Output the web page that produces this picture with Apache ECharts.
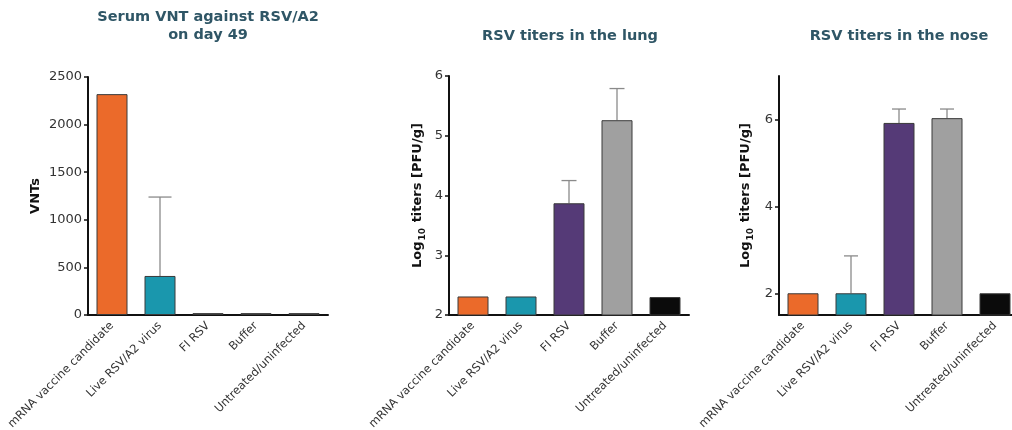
<!DOCTYPE html>
<html>
<head>
<meta charset="utf-8">
<script src="https://cdn.jsdelivr.net/npm/echarts@6/dist/echarts.min.js"></script>
<style>
html,body{margin:0;padding:0;background:#fff;}
#c{width:1012px;height:430px;}
</style>
</head>
<body>
<div id="c"></div>
<script>
// ---- data ----
const categories = ['mRNA vaccine candidate', 'Live RSV/A2 virus', 'FI RSV', 'Buffer', 'Untreated/uninfected'];
const vntValues = [2320, 410, 20, 20, 20];
const vntErrTop = [null, 1239, null, null, null];
const lungValues = [2.31, 2.31, 3.87, 5.26, 2.30];
const lungErrTop = [null, null, 4.25, 5.79, null];
const noseValues = [2.0, 2.0, 5.92, 6.03, 2.0];
const noseErrTop = [null, 2.86, 6.24, 6.24, null];
const vntTicks = [0, 500, 1000, 1500, 2000, 2500];
const lungTicks = [2, 3, 4, 5, 6];
const noseTicks = [2, 4, 6];
const titles = ['Serum VNT against RSV/A2\non day 49', 'RSV titers in the lung', 'RSV titers in the nose'];

const barColors = ['#EB6A2A', '#1A97AD', '#553A77', '#A0A0A0', '#0B0B0B'];
const vntColors = ['#EB6A2A', '#1A97AD', '#A8A8A8', '#A8A8A8', '#A8A8A8'];

const FONT = 'DejaVu Sans';
const titleColor = '#2F5666';

const chart = echarts.init(document.getElementById('c'));

const grids = [
  {left: 88, top: 77, width: 240, height: 238, outerBoundsMode: 'none'},
  {left: 449, top: 76, width: 240, height: 239, outerBoundsMode: 'none'},
  {left: 779, top: 76, width: 240, height: 239, outerBoundsMode: 'none'}
];

function xAxis(gi) {
  return {
    type: 'category', gridIndex: gi, data: categories,
    axisLine: {lineStyle: {color: '#111', width: 2}},
    axisTick: {alignWithLabel: true, length: 5, lineStyle: {color: '#111', width: 1.5}},
    axisLabel: {rotate: 45, fontFamily: FONT, fontSize: 11.5, color: '#333', margin: 9, interval: 0}
  };
}

const yName = '{a|Log}{s|10}{a| titers [PFU/g]}';
const yNameRich = {
  a: {fontFamily: FONT, fontWeight: 'bold', fontSize: 13, color: '#111', lineHeight: 18},
  s: {fontFamily: FONT, fontWeight: 'bold', fontSize: 9, color: '#111', lineHeight: 18, verticalAlign: 'bottom', padding: [0, 1, 0, 1]}
};

function yAxis(gi, min, max, ticks, name, gap, rich) {
  return {
    type: 'value', gridIndex: gi, min: min, max: max,
    name: name, nameLocation: 'middle', nameGap: gap,
    nameTextStyle: rich ? {rich: rich} : {fontFamily: FONT, fontWeight: 'bold', fontSize: 13, color: '#111'},
    axisLine: {show: true, lineStyle: {color: '#111', width: 2}},
    axisTick: {show: true, length: 4, lineStyle: {color: '#111', width: 1.5}, customValues: ticks},
    axisLabel: {fontFamily: FONT, fontSize: 13, color: '#333', margin: 6, customValues: ticks,
      formatter: v => String(v)},
    splitLine: {show: false}
  };
}

function errSeries(gi, values, tops, capW) {
  return {
    type: 'custom', xAxisIndex: gi, yAxisIndex: gi, z: 1,
    data: categories.map((c, i) => [i, values[i], tops[i] == null ? values[i] : tops[i]]),
    renderItem: function (params, api) {
      const i = api.value(0);
      if (api.value(2) === api.value(1)) return null;
      const p0 = api.coord([i, api.value(1)]);
      const p1 = api.coord([i, api.value(2)]);
      const st = {stroke: '#8a8a8a', lineWidth: 1.3};
      return {
        type: 'group',
        children: [
          {type: 'line', shape: {x1: p0[0], y1: p0[1], x2: p1[0], y2: p1[1]}, style: st},
          {type: 'line', shape: {x1: p1[0] - capW / 2, y1: p1[1], x2: p1[0] + capW / 2, y2: p1[1]}, style: st}
        ]
      };
    }
  };
}

function barSeries(gi, values, colors) {
  return {
    type: 'bar', xAxisIndex: gi, yAxisIndex: gi, z: 2, barWidth: 31,
    data: values.map((v, i) => ({value: v, itemStyle: {color: colors[i]}})),
    itemStyle: {borderColor: '#3a3a3a', borderWidth: 1}
  };
}

const titleCenters = [203, 565, 894];
chart.setOption({
  animation: false,
  title: titles.map((t, i) => ({
    text: t, left: titleCenters[i], textAlign: 'center', top: i === 0 ? 3 : 22,
    textStyle: {fontFamily: FONT, fontWeight: 'bold', fontSize: 14.5, color: titleColor, lineHeight: 18}
  })),
  grid: grids,
  xAxis: [xAxis(0), xAxis(1), xAxis(2)],
  yAxis: [
    yAxis(0, 0, 2500, vntTicks, 'VNTs', 46, null),
    yAxis(1, 2, 6, lungTicks, yName, 22, yNameRich),
    yAxis(2, 1.5, 7, noseTicks, yName, 24, yNameRich)
  ],
  series: [
    errSeries(0, vntValues, vntErrTop, 23),
    barSeries(0, vntValues, vntColors),
    errSeries(1, lungValues, lungErrTop, 15),
    barSeries(1, lungValues, barColors),
    errSeries(2, noseValues, noseErrTop, 14),
    barSeries(2, noseValues, barColors)
  ]
});
</script>
</body>
</html>
